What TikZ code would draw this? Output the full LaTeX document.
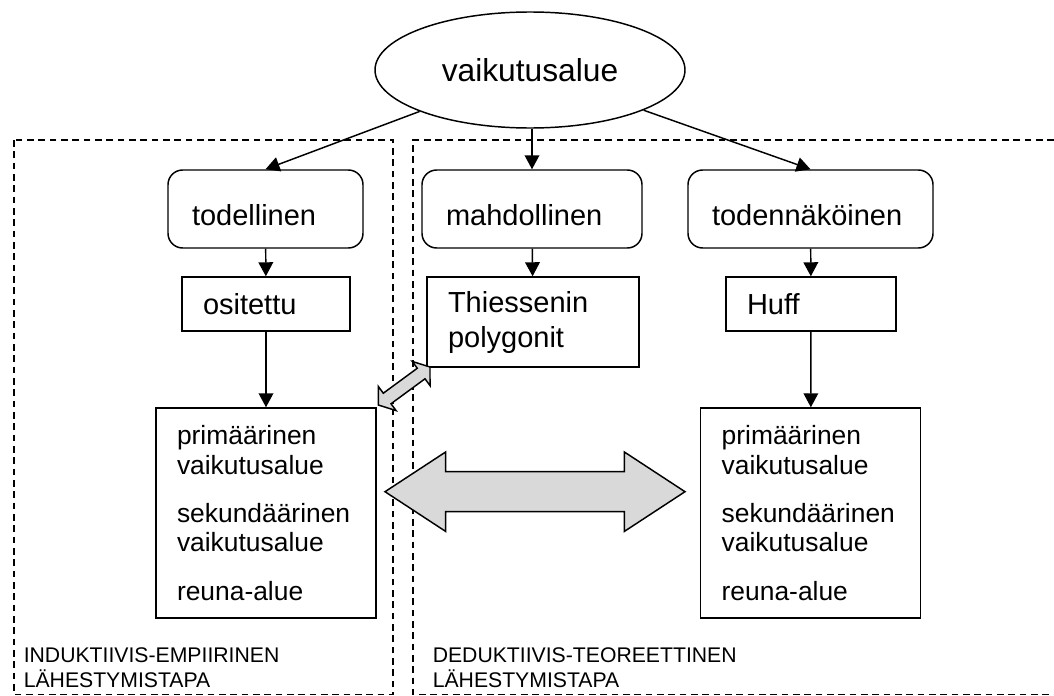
\documentclass[tikz,border=0pt]{standalone}
\usepackage{fontspec}
\setmainfont{Liberation Sans}
\usetikzlibrary{arrows.meta, calc, shapes.geometric}
\definecolor{arrowgrey}{HTML}{D9D9D9}

\tikzset{
  oval/.style={ellipse, draw, line width=1.1pt, inner sep=0pt,
    minimum width=232.5pt, minimum height=87pt,
    font=\fontsize{23.8pt}{28pt}\selectfont},
  kind/.style={rectangle, rounded corners=11pt, draw, line width=1.1pt,
    align=left, inner xsep=18pt, inner ysep=0pt, minimum height=58.5pt,
    text height=24pt, text depth=0pt,
    font=\fontsize{21.75pt}{26.25pt}\selectfont},
  method/.style={rectangle, draw, line width=1.1pt, align=left,
    inner xsep=15.75pt, inner ysep=0pt,
    font=\fontsize{21.75pt}{26.25pt}\selectfont},
  zone/.style={rectangle, draw, line width=1.1pt, align=left,
    inner xsep=15.75pt, inner ysep=0pt, text width=133.5pt,
    minimum height=157.5pt, font=\fontsize{19.8pt}{22pt}\selectfont},
  note/.style={align=left, inner sep=0pt, anchor=north west,
    font=\fontsize{15.9pt}{18.75pt}\selectfont},
  link/.style={line width=1.1pt, -{Triangle[length=10.5pt, width=11pt]}},
  region/.style={line width=1pt, dash pattern=on 5pt off 3.5pt},
  twoway/.style={draw, fill=arrowgrey, line width=1.1pt, line join=miter}
}

\newcommand\twoway[5]{%
  \draw[twoway] let \p1=(#1), \p2=(#2), \n1={atan2(\y2-\y1,\x2-\x1)} in
    (\p1) -- ($(\p1)+(\n1:#5)+(\n1+90:#4)$) -- ($(\p1)+(\n1:#5)+(\n1+90:#3)$)
    -- ($(\p2)+(\n1+180:#5)+(\n1+90:#3)$) -- ($(\p2)+(\n1+180:#5)+(\n1+90:#4)$)
    -- (\p2) -- ($(\p2)+(\n1+180:#5)+(\n1-90:#4)$) -- ($(\p2)+(\n1+180:#5)+(\n1-90:#3)$)
    -- ($(\p1)+(\n1:#5)+(\n1-90:#3)$) -- ($(\p1)+(\n1:#5)+(\n1-90:#4)$) -- cycle;}

\begin{document}
\begin{tikzpicture}[x=0.75pt, y=-0.75pt]
  \useasboundingbox (0,0) rectangle (1054,696);
  \fill[white] (0,0) rectangle (1054,696);

  \draw[region] (14,140) rectangle (393,694.5);
  \draw[region] (1054,140) -- (413,140) -- (413,694.5) -- (1054,694.5);

  \node[oval] (vaik) at (530,70) {vaikutusalue};

  \node[kind, text width=110.25pt] (todl) at (265.5,209) {todellinen};
  \node[kind, text width=129pt] (mahd) at (532,209) {mahdollinen};
  \node[kind, text width=147.75pt] (todn) at (810.5,209) {todennäköinen};

  \node[method, text width=94.5pt, minimum height=40.5pt] (osit) at (266,304) {ositettu};
  \node[method, text width=127.5pt, minimum height=67.5pt] (thies) at (533,322) {Thiessenin\\polygonit};
  \node[method, text width=96pt, minimum height=40.5pt] (huff) at (811,304) {Huff};

  \node[zone] (lbig) at (266,513)
    {primäärinen\\vaikutusalue\\[14.25pt]sekundäärinen\\vaikutusalue\\[14.25pt]reuna-alue};
  \node[zone] (rbig) at (810.7,513)
    {primäärinen\\vaikutusalue\\[14.25pt]sekundäärinen\\vaikutusalue\\[14.25pt]reuna-alue};

  \node[note] (indu) at (23.5,647) {INDUKTIIVIS-EMPIIRINEN\\LÄHESTYMISTAPA};
  \node[note] (dedu) at (432.5,647) {DEDUKTIIVIS-TEOREETTINEN\\LÄHESTYMISTAPA};

  \draw[link] (vaik) -- (todl.north);
  \draw[link] (mahd.north |- vaik.south) -- (mahd.north);
  \draw[link] (vaik) -- (todn.north);
  \draw[link] (todl) -- (osit);
  \draw[link] (mahd) -- (thies);
  \draw[link] (todn) -- (huff);
  \draw[link] (osit) -- (lbig);
  \draw[link] (huff) -- (rbig);

  \coordinate (smallL) at (378.3,405);
  \coordinate (smallR) at (430,367);
  \coordinate (bigL) at (385,491.7);
  \coordinate (bigR) at (685,491.7);
  \twoway{smallL}{smallR}{4.9pt}{11.25pt}{8.25pt}
  \twoway{bigL}{bigR}{15pt}{29.8pt}{45.5pt}
\end{tikzpicture}
\end{document}
